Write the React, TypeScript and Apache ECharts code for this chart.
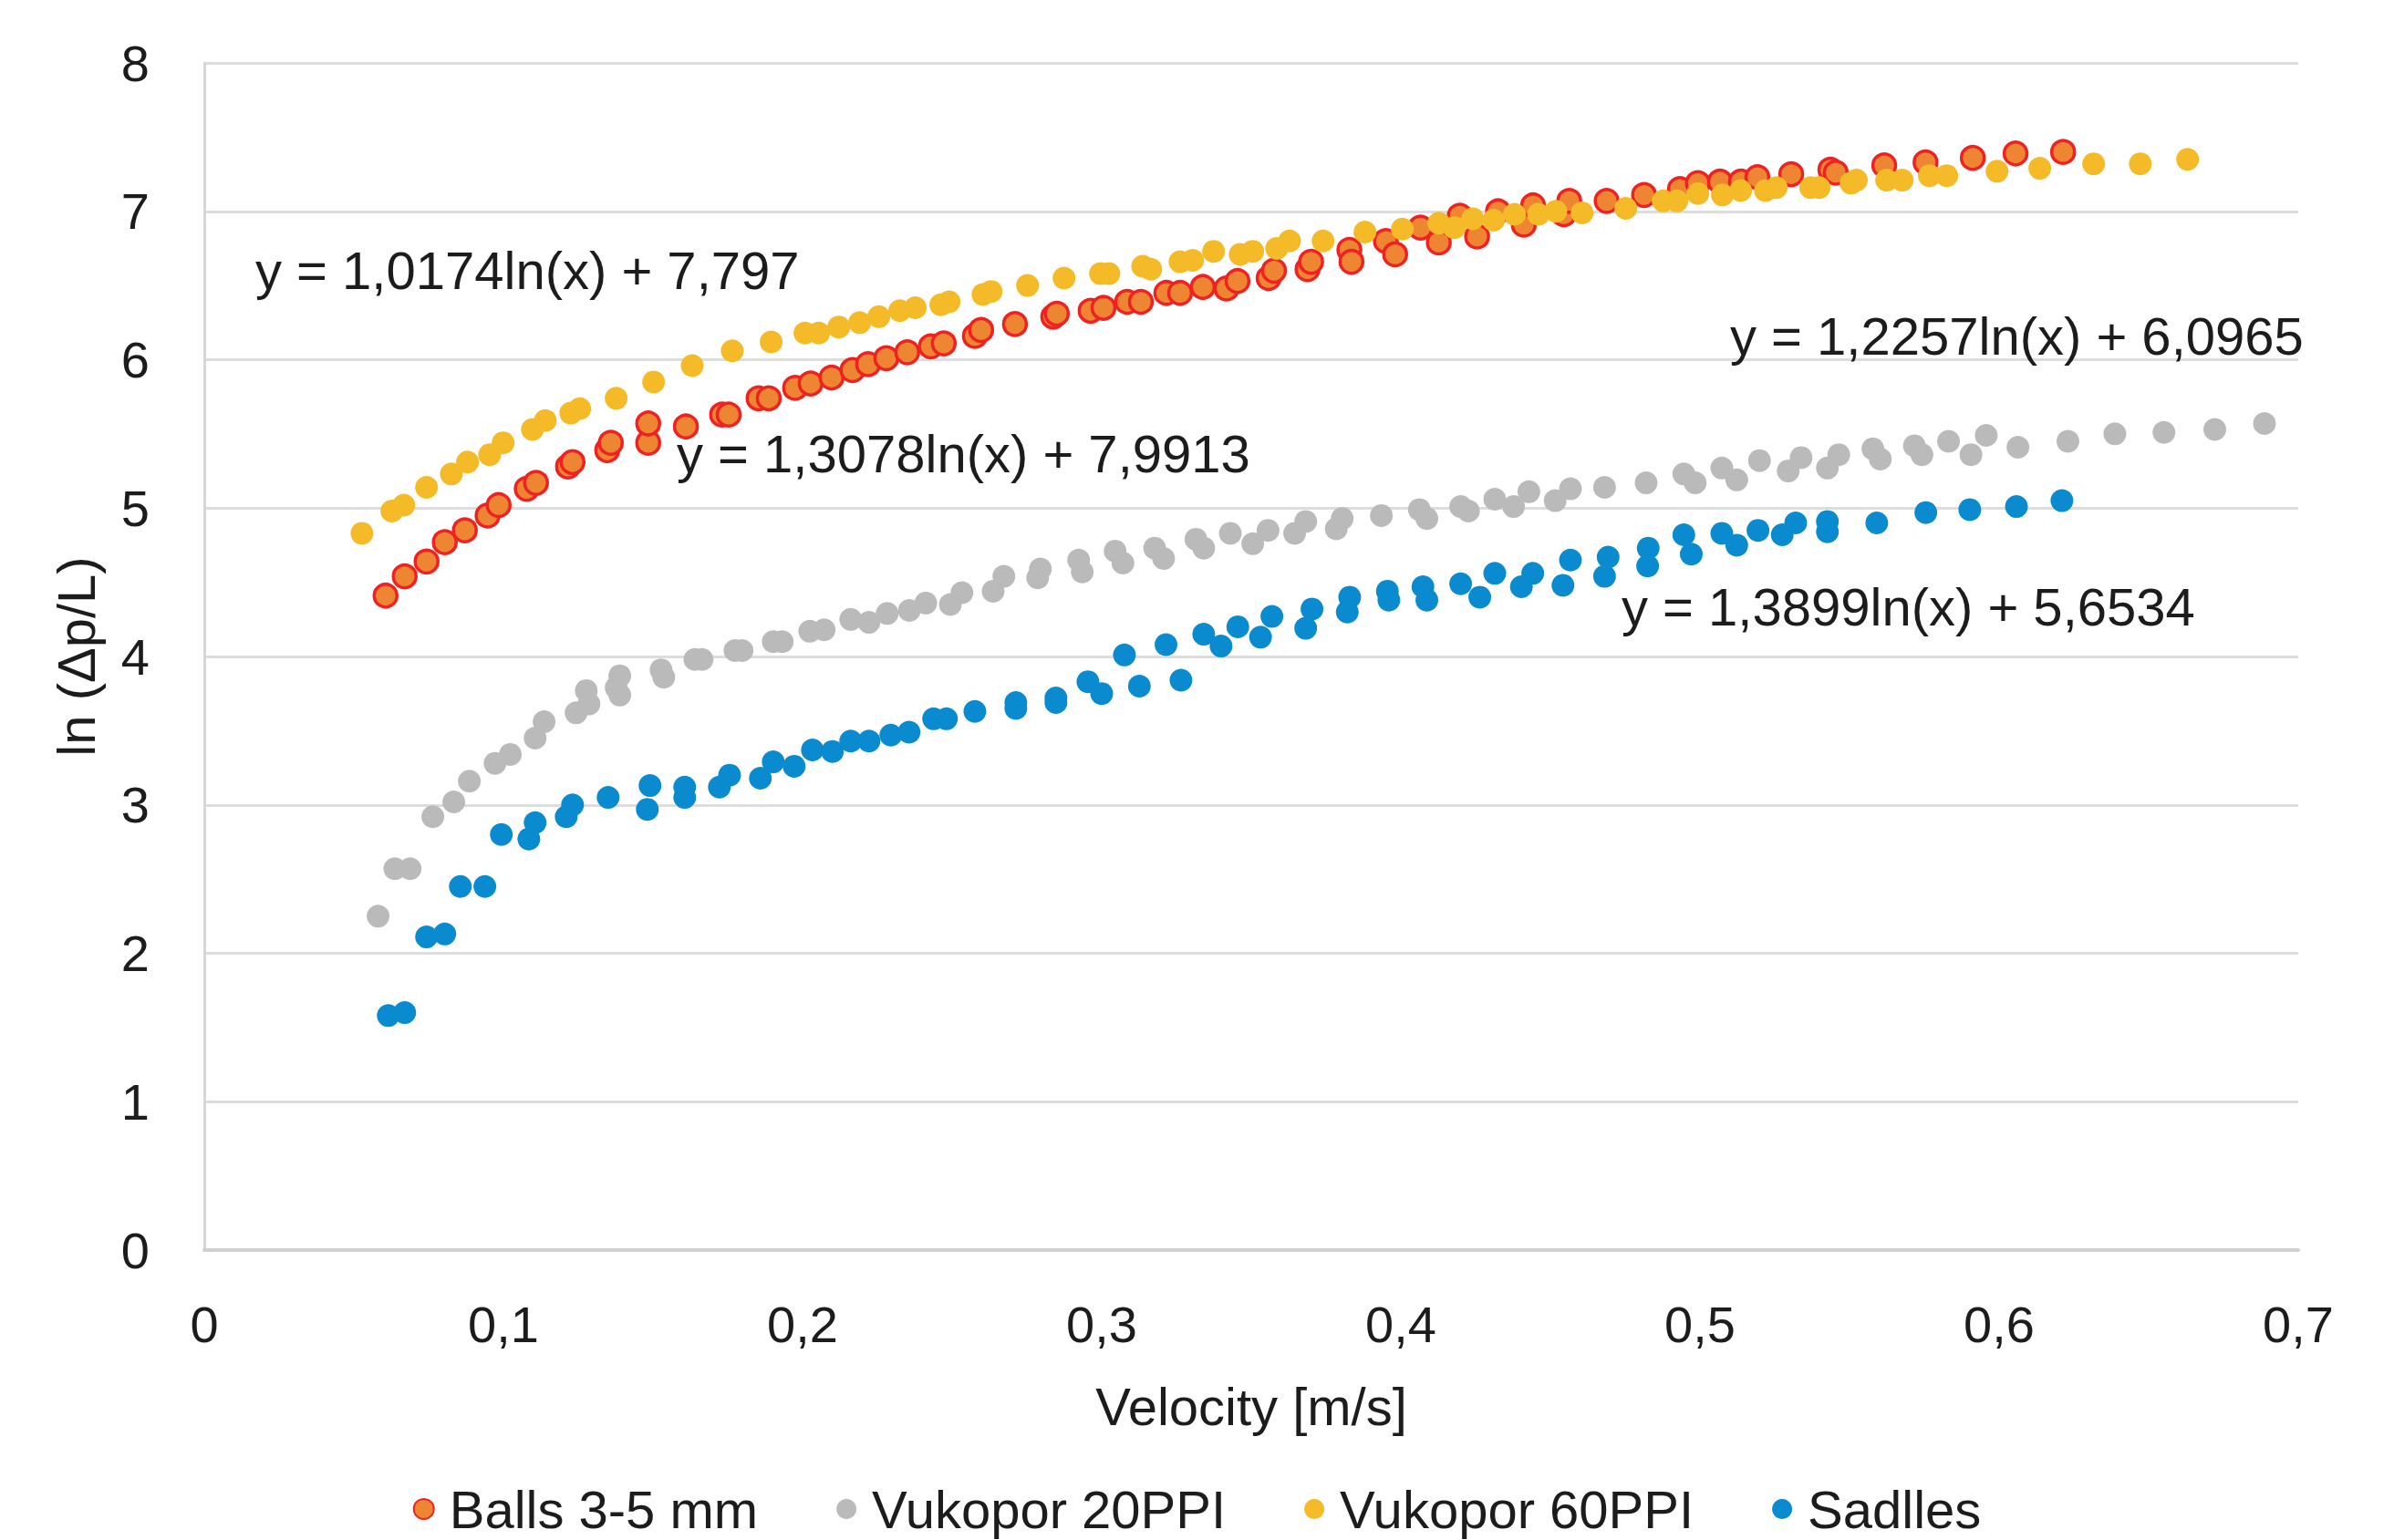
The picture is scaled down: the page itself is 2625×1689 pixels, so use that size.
import React, { useEffect, useRef } from "react";
import * as echarts from "echarts";

const seriesNames = ["Balls 3-5 mm", "Vukopor 20PPI", "Vukopor 60PPI", "Sadlles"];

const ballsX = [0.0606,0.067,0.0743,0.0804,0.0871,0.0947,0.0984,0.1078,0.1109,0.1216,0.1231,0.1347,0.1359,0.1484,0.1484,0.161,0.1731,0.1753,0.1853,0.1887,0.1975,0.2027,0.2097,0.2167,0.2219,0.228,0.235,0.2429,0.2472,0.2576,0.2597,0.271,0.2838,0.285,0.2963,0.3006,0.3085,0.3131,0.3216,0.3262,0.3338,0.3417,0.3454,0.3558,0.3576,0.3688,0.37,0.3828,0.3835,0.395,0.3981,0.4066,0.4127,0.4197,0.4255,0.4325,0.4411,0.4442,0.4545,0.4563,0.4688,0.4813,0.4933,0.4993,0.5067,0.5137,0.5192,0.5305,0.5436,0.5454,0.5616,0.5754,0.5912,0.6055,0.6214];
const ballsY = [4.41,4.54,4.64,4.77,4.85,4.95,5.02,5.13,5.17,5.28,5.31,5.39,5.44,5.44,5.57,5.55,5.63,5.63,5.74,5.74,5.81,5.84,5.88,5.93,5.97,6.01,6.05,6.09,6.11,6.16,6.20,6.24,6.29,6.31,6.33,6.35,6.39,6.39,6.45,6.45,6.49,6.48,6.53,6.55,6.60,6.61,6.66,6.74,6.66,6.80,6.71,6.89,6.79,6.97,6.83,7.00,6.91,7.04,6.98,7.07,7.07,7.11,7.15,7.19,7.20,7.20,7.23,7.25,7.28,7.26,7.31,7.33,7.36,7.39,7.40];

const v20X = [0.0581,0.0637,0.0688,0.0764,0.0834,0.0886,0.0972,0.1023,0.1106,0.1136,0.1243,0.1277,0.1286,0.1377,0.1389,0.1389,0.1527,0.1536,0.164,0.1664,0.1774,0.1798,0.1902,0.1932,0.2024,0.2072,0.2161,0.2222,0.2283,0.2357,0.2412,0.2494,0.2533,0.2637,0.2673,0.2786,0.2795,0.2923,0.2935,0.3045,0.3071,0.3177,0.3207,0.3315,0.3341,0.343,0.3505,0.3556,0.3645,0.3682,0.3784,0.3804,0.3935,0.4062,0.4087,0.42,0.4226,0.4314,0.4377,0.4428,0.4516,0.4567,0.4681,0.482,0.4946,0.4984,0.5073,0.5123,0.5199,0.5295,0.5338,0.5426,0.5464,0.5578,0.5603,0.5717,0.5742,0.5831,0.5906,0.5957,0.6063,0.623,0.6387,0.6551,0.6721,0.6887];
const v20Y = [2.25,2.57,2.57,2.92,3.02,3.16,3.28,3.34,3.45,3.56,3.62,3.77,3.68,3.79,3.74,3.87,3.91,3.86,3.98,3.98,4.04,4.04,4.10,4.10,4.17,4.18,4.25,4.23,4.29,4.31,4.36,4.35,4.43,4.44,4.54,4.53,4.59,4.65,4.57,4.71,4.63,4.73,4.66,4.79,4.73,4.83,4.76,4.85,4.83,4.91,4.86,4.93,4.95,4.99,4.93,5.01,4.98,5.06,5.01,5.11,5.05,5.13,5.14,5.17,5.23,5.17,5.27,5.19,5.32,5.25,5.34,5.27,5.36,5.40,5.33,5.42,5.36,5.45,5.36,5.49,5.41,5.45,5.50,5.51,5.53,5.57];

const v60X = [0.0527,0.0627,0.0667,0.0743,0.0826,0.088,0.0954,0.0999,0.1097,0.114,0.1225,0.1255,0.1377,0.1502,0.1631,0.1765,0.1895,0.2008,0.2054,0.2121,0.2191,0.2255,0.2325,0.2377,0.2462,0.249,0.2603,0.263,0.2752,0.2874,0.2996,0.3024,0.3137,0.3164,0.3262,0.3304,0.3374,0.3463,0.3505,0.3585,0.3628,0.374,0.388,0.4005,0.4127,0.4179,0.424,0.431,0.438,0.446,0.4518,0.4606,0.4752,0.4877,0.4923,0.4993,0.5075,0.5136,0.5219,0.5255,0.537,0.5398,0.5505,0.5523,0.5624,0.5676,0.5767,0.5825,0.5993,0.6136,0.6316,0.6472,0.663];
const v60Y = [4.83,4.98,5.02,5.14,5.23,5.31,5.36,5.44,5.53,5.59,5.64,5.67,5.74,5.85,5.96,6.06,6.12,6.18,6.18,6.22,6.25,6.29,6.33,6.35,6.37,6.39,6.44,6.46,6.50,6.55,6.58,6.58,6.63,6.61,6.66,6.67,6.73,6.71,6.73,6.75,6.80,6.80,6.86,6.88,6.92,6.89,6.95,6.94,6.98,6.98,7.00,6.99,7.02,7.07,7.07,7.12,7.11,7.14,7.14,7.16,7.16,7.16,7.19,7.21,7.21,7.21,7.24,7.24,7.27,7.29,7.32,7.32,7.35];

const sadX = [0.0615,0.067,0.0743,0.0804,0.0856,0.0938,0.0993,0.1085,0.1106,0.121,0.1231,0.135,0.1481,0.149,0.1606,0.1606,0.1722,0.1756,0.1859,0.1902,0.1972,0.2033,0.21,0.2161,0.2222,0.2295,0.2356,0.2438,0.2481,0.2576,0.2713,0.2713,0.2847,0.2847,0.2954,0.3,0.3076,0.3126,0.3215,0.3265,0.3341,0.3399,0.3455,0.3531,0.3569,0.3682,0.3703,0.3821,0.3829,0.396,0.3955,0.4087,0.4074,0.42,0.4264,0.4314,0.4403,0.4441,0.4542,0.4567,0.4681,0.4693,0.4825,0.4827,0.4971,0.4946,0.5073,0.5123,0.5194,0.5275,0.532,0.5426,0.5426,0.5591,0.5755,0.5902,0.6058,0.621];
const sadY = [1.58,1.60,2.11,2.13,2.45,2.45,2.80,2.77,2.88,2.92,3.00,3.05,2.97,3.13,3.05,3.12,3.12,3.20,3.18,3.29,3.26,3.37,3.36,3.43,3.43,3.47,3.49,3.58,3.58,3.63,3.69,3.65,3.72,3.69,3.83,3.75,4.01,3.80,4.08,3.84,4.15,4.07,4.20,4.13,4.27,4.19,4.32,4.30,4.40,4.38,4.44,4.38,4.47,4.49,4.40,4.56,4.47,4.56,4.48,4.65,4.54,4.67,4.61,4.73,4.69,4.82,4.83,4.75,4.85,4.82,4.90,4.91,4.84,4.90,4.97,4.99,5.01,5.05];

const equations = [
  "y = 1,0174ln(x) + 7,797",
  "y = 1,3078ln(x) + 7,9913",
  "y = 1,2257ln(x) + 6,0965",
  "y = 1,3899ln(x) + 5,6534",
];

const xTicksMin = 0, xTicksMax = 0.7, xTickStep = 0.1;
const yTicksMin = 0, yTicksMax = 8, yTickStep = 1;

const FONT = "'Liberation Sans', Arial, sans-serif";
const TEXT = "#1c1c1c";

const zip = (xs: number[], ys: number[]) => xs.map((x, i) => [x, ys[i]]);
const fmt = (v: number) => String(Number(v.toFixed(2))).replace(".", ",");

export default function App() {
  const ref = useRef<HTMLDivElement>(null);
  useEffect(() => {
    document.body.style.margin = "0";
    const chart = echarts.init(ref.current!, null, { renderer: "svg" });
    const sym = 25;
    const eqPos = [
      [280, 296],
      [742, 497],
      [1897, 368],
      [1778, 665],
    ];
    chart.setOption({
      animation: false,
      backgroundColor: "#ffffff",
      textStyle: { fontFamily: FONT },
      grid: { left: 224, right: 105, top: 69, bottom: 318, containLabel: false },
      xAxis: {
        type: "value",
        min: xTicksMin,
        max: xTicksMax,
        interval: xTickStep,
        name: "Velocity [m/s]",
        nameLocation: "middle",
        nameGap: 142,
        nameTextStyle: { fontSize: 58, color: TEXT, fontFamily: FONT },
        axisLine: { show: true, lineStyle: { color: "#D0D0D0", width: 4 } },
        axisTick: { show: false },
        splitLine: { show: false },
        axisLabel: { fontSize: 56, color: TEXT, margin: 53, fontFamily: FONT, formatter: fmt },
      },
      yAxis: {
        type: "value",
        min: yTicksMin,
        max: yTicksMax,
        interval: yTickStep,
        name: "ln (Δp/L)",
        nameLocation: "middle",
        nameGap: 112,
        nameTextStyle: { fontSize: 58, color: TEXT, fontFamily: FONT },
        axisLine: { show: true, lineStyle: { color: "#D6D6D6", width: 3 } },
        axisTick: { show: false },
        splitLine: { show: true, lineStyle: { color: "#DDDDDD", width: 3 } },
        axisLabel: { fontSize: 56, color: TEXT, margin: 60, fontFamily: FONT, formatter: fmt },
      },
      legend: {
        bottom: 0,
        left: "center",
        itemGap: 86,
        itemWidth: 22,
        itemHeight: 22,
        icon: "circle",
        textStyle: { fontSize: 58, color: TEXT, fontFamily: FONT, padding: [0, 0, 0, 12] },
        data: seriesNames,
      },
      series: [
        {
          name: seriesNames[0],
          type: "scatter",
          symbolSize: sym,
          data: zip(ballsX, ballsY),
          itemStyle: { color: "#EE8533", borderColor: "#EE2222", borderWidth: 3.5, opacity: 1 },
        },
        {
          name: seriesNames[1],
          type: "scatter",
          symbolSize: sym,
          data: zip(v20X, v20Y),
          itemStyle: { color: "#BABABA", opacity: 1 },
        },
        {
          name: seriesNames[2],
          type: "scatter",
          symbolSize: sym,
          data: zip(v60X, v60Y),
          itemStyle: { color: "#F5BA28", opacity: 1 },
        },
        {
          name: seriesNames[3],
          type: "scatter",
          symbolSize: sym,
          data: zip(sadX, sadY),
          itemStyle: { color: "#0A8BD0", opacity: 1 },
        },
      ],
      graphic: equations.map((t, i) => ({
        type: "text",
        x: eqPos[i][0],
        y: eqPos[i][1],
        z: 100,
        style: {
          text: t,
          fill: TEXT,
          fontSize: 58,
          fontFamily: FONT,
          align: "left",
          verticalAlign: "middle",
          textAlign: "left",
          textVerticalAlign: "middle",
        },
      })),
    });
    return () => chart.dispose();
  }, []);
  return <div ref={ref} style={{ width: 2625, height: 1689 }} />;
}
